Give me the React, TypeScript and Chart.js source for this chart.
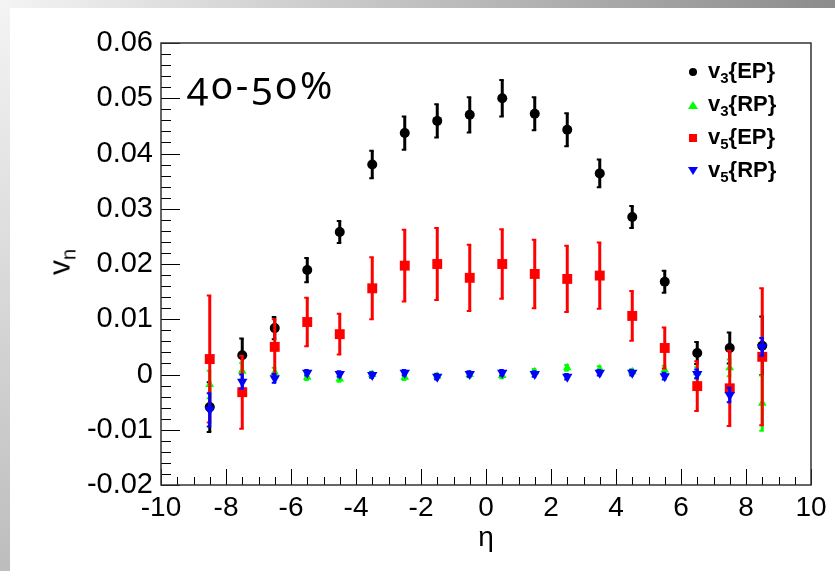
import React, { useEffect, useRef } from 'react';
import { Chart, registerables } from 'chart.js';
Chart.register(...registerables);

// eta bin centres
const eta = [-8.5, -7.5, -6.5, -5.5, -4.5, -3.5, -2.5, -1.5, -0.5, 0.5, 1.5, 2.5, 3.5, 4.5, 5.5, 6.5, 7.5, 8.5];

const v3EP = [-0.0059, 0.0035, 0.0084, 0.0189, 0.0258, 0.0380, 0.0437, 0.0459, 0.0470, 0.0500, 0.0472, 0.0443, 0.0364, 0.0285, 0.0168, 0.0039, 0.0048, 0.0052];
const v3EPerr = [0.0045, 0.0030, 0.0020, 0.0022, 0.0020, 0.0025, 0.0030, 0.0030, 0.0032, 0.0033, 0.0030, 0.0030, 0.0025, 0.0020, 0.0020, 0.0020, 0.0028, 0.0053];

const v3RP = [-0.0018, 0.0006, 0.0004, -0.0005, -0.0008, 0.0000, -0.0005, -0.0003, 0.0000, -0.0002, 0.0005, 0.0012, 0.0010, 0.0005, 0.0008, 0.0003, 0.0012, -0.0052];
const v3RPerr = [0.0025, 0.0015, 0.0008, 0.0005, 0.0005, 0.0005, 0.0005, 0.0005, 0.0005, 0.0005, 0.0005, 0.0005, 0.0005, 0.0005, 0.0008, 0.0010, 0.0015, 0.0050];

const v5EP = [0.0028, -0.0032, 0.0050, 0.0095, 0.0073, 0.0156, 0.0197, 0.0200, 0.0175, 0.0200, 0.0182, 0.0173, 0.0179, 0.0106, 0.0048, -0.0021, -0.0025, 0.0032];
const v5EPerr = [0.0115, 0.0066, 0.0050, 0.0044, 0.0037, 0.0056, 0.0065, 0.0065, 0.0060, 0.0063, 0.0062, 0.0060, 0.0060, 0.0045, 0.0037, 0.0045, 0.0068, 0.0124];

const v5RP = [-0.0064, -0.0013, -0.0007, 0.0003, 0.0001, -0.0001, 0.0003, -0.0004, 0.0001, 0.0003, 0.0001, -0.0004, 0.0003, 0.0003, -0.0003, 0.0001, -0.0037, 0.0050];
const v5RPerr = [0.0030, 0.0013, 0.0008, 0.0005, 0.0005, 0.0005, 0.0005, 0.0005, 0.0005, 0.0005, 0.0005, 0.0005, 0.0005, 0.0005, 0.0006, 0.0008, 0.0013, 0.0016];

const xRange = [-10, 10];
const yRange = [-0.02, 0.06];
const centralityLabel = '40-50%';
const xTitle = 'η';

const FONT = "'Liberation Sans', Arial, Helvetica, sans-serif";

const errorBarPlugin = {
  id: 'errorBars',
  beforeDatasetDraw(chart: any, args: any) {
    const ds = chart.data.datasets[args.index];
    const errs = ds.errors;
    if (!errs) return;
    const { ctx, chartArea: a } = chart;
    const xs = chart.scales.x;
    const ys = chart.scales.y;
    ctx.save();
    ctx.beginPath();
    ctx.rect(a.left, a.top, a.right - a.left, a.bottom - a.top);
    ctx.clip();
    ctx.strokeStyle = ds.errColor;
    ds.data.forEach((p: any, i: number) => {
      const px = xs.getPixelForValue(p.x);
      const y1 = ys.getPixelForValue(p.y - errs[i]);
      const y2 = ys.getPixelForValue(p.y + errs[i]);
      ctx.lineWidth = 3;
      ctx.beginPath();
      ctx.moveTo(px, y1);
      ctx.lineTo(px, y2);
      ctx.stroke();
      ctx.lineWidth = 2;
      ctx.beginPath();
      ctx.moveTo(px - 3, y1);
      ctx.lineTo(px + 1.5, y1);
      ctx.moveTo(px - 3, y2);
      ctx.lineTo(px + 1.5, y2);
      ctx.stroke();
    });
    ctx.restore();
  },
};

const framePlugin = {
  id: 'rootFrame',
  beforeDatasetsDraw(chart: any) {
    const { ctx, chartArea: a } = chart;
    const xs = chart.scales.x;
    const ys = chart.scales.y;
    ctx.save();
    ctx.strokeStyle = '#000';
    ctx.lineWidth = 1;
    ctx.beginPath();
    // x ticks: major every 2, minor every 0.5 (inside)
    for (let k = 0; k <= 40; k++) {
      const v = xRange[0] + k * 0.5;
      const px = Math.round(xs.getPixelForValue(v)) + 0.5;
      const len = k % 4 === 0 ? 16 : 8;
      ctx.moveTo(px, a.bottom);
      ctx.lineTo(px, a.bottom - len);
    }
    // y ticks: major every 0.01, minor every 0.002
    for (let k = 0; k <= 40; k++) {
      const v = yRange[0] + k * 0.002;
      const py = Math.round(ys.getPixelForValue(v)) + 0.5;
      const len = k % 5 === 0 ? 19 : 10;
      ctx.moveTo(a.left, py);
      ctx.lineTo(a.left + len, py);
    }
    ctx.stroke();
    ctx.strokeStyle = '#333';
    ctx.lineWidth = 1.5;
    ctx.strokeRect(a.left, a.top, a.right - a.left, a.bottom - a.top);
    ctx.restore();
  },
};

function pts(vals: number[]) {
  return eta.map((x, i) => ({ x, y: vals[i] }));
}

function LegendMarker({ kind, color }: { kind: string; color: string }) {
  const base: React.CSSProperties = { position: 'absolute', left: 0, top: 0 };
  if (kind === 'circle')
    return <div style={{ ...base, left: -4, top: -4, width: 8, height: 8, borderRadius: 4, background: color }} />;
  if (kind === 'square')
    return <div style={{ ...base, left: -4, top: -4, width: 8, height: 8, background: color }} />;
  if (kind === 'up')
    return <div style={{ ...base, left: -5, top: -4, width: 0, height: 0, borderLeft: '5px solid transparent', borderRight: '5px solid transparent', borderBottom: `8px solid ${color}` }} />;
  return <div style={{ ...base, left: -5, top: -4, width: 0, height: 0, borderLeft: '5px solid transparent', borderRight: '5px solid transparent', borderTop: `8px solid ${color}` }} />;
}

const legendItems = [
  { n: '3', m: 'EP', kind: 'circle', color: '#000000', y: 72 },
  { n: '3', m: 'RP', kind: 'up', color: '#00ff00', y: 105 },
  { n: '5', m: 'EP', kind: 'square', color: '#ff0000', y: 138 },
  { n: '5', m: 'RP', kind: 'down', color: '#0000ff', y: 171 },
];

export default function App() {
  const ref = useRef<HTMLCanvasElement>(null);
  useEffect(() => {
    document.body.style.margin = '0';
    const chart = new Chart(ref.current as HTMLCanvasElement, {
      type: 'scatter',
      data: {
        datasets: [
          { label: 'v3{EP}', data: pts(v3EP), errors: v3EPerr, errColor: '#000000', pointStyle: 'circle', radius: 5, backgroundColor: '#000000', borderColor: '#000000', borderWidth: 0, order: 4 } as any,
          { label: 'v3{RP}', data: pts(v3RP), errors: v3RPerr, errColor: '#00ff00', pointStyle: 'triangle', radius: 5, backgroundColor: '#00ff00', borderColor: '#00ff00', borderWidth: 0, order: 3 } as any,
          { label: 'v5{EP}', data: pts(v5EP), errors: v5EPerr, errColor: '#ff0000', pointStyle: 'rect', radius: 7, backgroundColor: '#ff0000', borderColor: '#ff0000', borderWidth: 0, order: 2 } as any,
          { label: 'v5{RP}', data: pts(v5RP), errors: v5RPerr, errColor: '#0000ff', pointStyle: 'triangle', rotation: 180, radius: 6, backgroundColor: '#0000ff', borderColor: '#0000ff', borderWidth: 0, order: 1 } as any,
        ],
      },
      options: {
        responsive: false,
        animation: false,
        devicePixelRatio: 1,
        layout: { padding: { top: 43, right: 24, bottom: 0, left: 0 } },
        plugins: { legend: { display: false }, tooltip: { enabled: false } },
        scales: {
          x: {
            type: 'linear',
            min: xRange[0],
            max: xRange[1],
            grid: { display: false, drawTicks: false },
            border: { display: false },
            ticks: {
              stepSize: 2,
              autoSkip: false,
              maxRotation: 0,
              padding: 6,
              color: '#000',
              font: { family: FONT, size: 28 },
            },
            title: {
              display: true,
              text: xTitle,
              color: '#000',
              font: { family: FONT, size: 28 },
              padding: { top: 0, bottom: 16 },
            },
            afterFit: (s: any) => {
              s.height = 86;
            },
          },
          y: {
            type: 'linear',
            min: yRange[0],
            max: yRange[1],
            grid: { display: false, drawTicks: false },
            border: { display: false },
            ticks: {
              stepSize: 0.01,
              padding: 8,
              color: '#000',
              font: { family: FONT, size: 29 },
              callback: (v: any) => (Math.abs(v) < 1e-9 ? '0' : Number(v).toFixed(2)),
            },
            afterFit: (s: any) => {
              s.width = 161;
            },
          },
        },
      },
      plugins: [framePlugin, errorBarPlugin],
    });
    return () => chart.destroy();
  }, []);

  return (
    <div style={{ position: 'absolute', left: 0, top: 0, width: 835, height: 571, background: '#fff', overflow: 'hidden' }}>
      <div style={{ position: 'absolute', left: 0, top: 0, width: 835, height: 8, background: 'linear-gradient(to right, #f4f4f4, #8c8c8c)' }} />
      <div style={{ position: 'absolute', left: 0, top: 0, width: 10, height: 571, background: 'linear-gradient(to bottom, #f4f4f4, #bdbdbd)' }} />
      <canvas ref={ref} width={835} height={571} style={{ position: 'absolute', left: 0, top: 0 }} />
      <div
        style={{
          position: 'absolute',
          left: 187,
          top: 64,
          fontFamily: "'Noto Sans', 'Open Sans', sans-serif",
          fontSize: 39,
          lineHeight: '39px',
          letterSpacing: 3,
          fontVariantNumeric: 'oldstyle-nums',
          color: '#000',
          whiteSpace: 'nowrap',
        }}
      >
        {centralityLabel}
      </div>
      <div
        style={{
          position: 'absolute',
          left: 64,
          top: 262,
          transform: 'translate(-50%, -50%) rotate(-90deg)',
          fontFamily: FONT,
          fontSize: 30,
          lineHeight: '30px',
          color: '#000',
          whiteSpace: 'nowrap',
        }}
      >
        v<sub style={{ fontSize: 20, verticalAlign: -6 }}>n</sub>
      </div>
      {legendItems.map((it) => (
        <div key={it.n + it.m} style={{ position: 'absolute', left: 0, top: 0 }}>
          <div style={{ position: 'absolute', left: 693, top: it.y }}>
            <LegendMarker kind={it.kind} color={it.color} />
          </div>
          <div
            style={{
              position: 'absolute',
              left: 708,
              top: it.y - 14,
              fontFamily: FONT,
              fontWeight: 'bold',
              fontSize: 22,
              lineHeight: '26px',
              color: '#000',
              whiteSpace: 'nowrap',
            }}
          >
            v<sub style={{ fontSize: 15, verticalAlign: -5, lineHeight: 0 }}>{it.n}</sub>
            {'{' + it.m + '}'}
          </div>
        </div>
      ))}
    </div>
  );
}
